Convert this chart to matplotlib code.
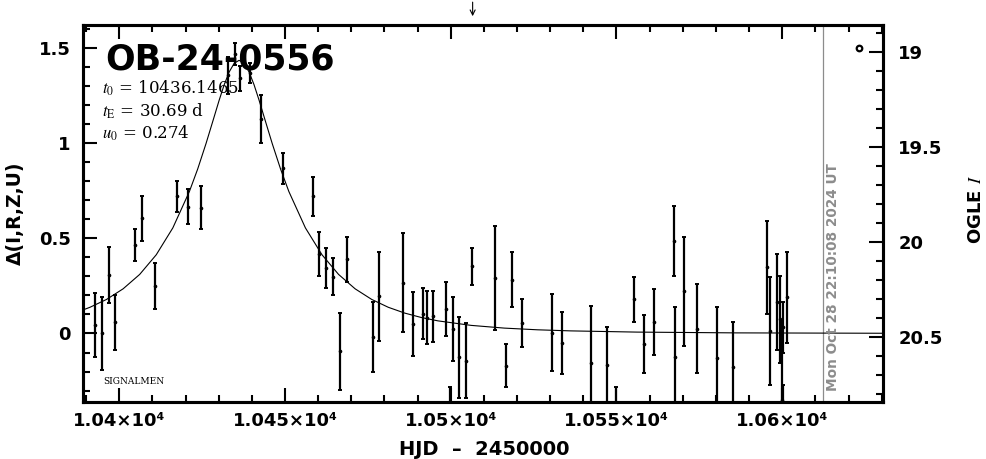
import matplotlib
matplotlib.use('Agg')
import matplotlib.pyplot as plt
from matplotlib.ticker import MultipleLocator, FixedLocator, FixedFormatter

# ---------------- data ----------------
hjd = [10392.58, 10394.69, 10396.80, 10398.70, 10404.83, 10406.76, 10410.86,
       10417.50, 10420.64, 10424.74, 10432.71, 10434.91, 10436.42, 10439.44,
       10442.76, 10449.49, 10458.54, 10460.35, 10462.46, 10464.57, 10466.69,
       10468.62, 10476.64, 10478.46, 10485.70, 10488.53, 10491.55, 10492.76,
       10494.57, 10498.67, 10499.79, 10500.60, 10502.59, 10504.53, 10506.43,
       10513.46, 10516.60, 10518.59, 10521.51, 10530.57, 10533.58, 10542.43,
       10547.25, 10549.79, 10555.40, 10558.42, 10561.35, 10567.38, 10567.50,
       10570.49, 10574.41, 10580.36, 10585.27, 10595.35, 10596.44, 10598.37,
       10599.46, 10599.88, 10600.12, 10600.36, 10601.39]
dmag = [0.046, 0.000, 0.307, 0.058, 0.466, 0.605, 0.250,
        0.721, 0.667, 0.661, 1.357, 1.470, 1.341, 1.369,
        1.127, 0.868, 0.721, 0.417, 0.343, 0.299, -0.094,
        0.390, -0.017, 0.195, 0.266, 0.051, 0.104, 0.084,
        0.091, 0.130, -0.402, 0.023, -0.125, -0.143, 0.353,
        0.292, -0.169, 0.282, 0.055, 0.005, -0.051, -0.157,
        -0.167, -0.450, 0.180, -0.056, 0.060, 0.487, -0.122,
        0.221, 0.026, -0.130, -0.178, 0.347, 0.014, 0.165,
        0.074, -0.350, -0.500, 0.032, 0.191]
dmag_err = [0.168, 0.192, 0.147, 0.145, 0.085, 0.117, 0.122,
            0.082, 0.092, 0.114, 0.098, 0.059, 0.065, 0.053,
            0.126, 0.082, 0.102, 0.115, 0.105, 0.096, 0.203,
            0.118, 0.184, 0.235, 0.260, 0.169, 0.134, 0.139,
            0.134, 0.143, 0.121, 0.167, 0.214, 0.196, 0.098,
            0.274, 0.112, 0.145, 0.125, 0.201, 0.163, 0.301,
            0.200, 0.170, 0.118, 0.153, 0.173, 0.185, 0.263,
            0.287, 0.232, 0.268, 0.240, 0.246, 0.285, 0.251,
            0.230, 0.420, 0.230, 0.136, 0.239]

# model curve (tabulated)
model_hjd = [10389.00, 10391.15, 10396.15, 10401.15, 10406.15, 10411.15, 10416.15,
             10421.15, 10423.65, 10426.15, 10428.15, 10430.15, 10431.65, 10433.15,
             10434.65, 10436.15, 10437.65, 10439.15, 10440.65, 10442.15, 10444.15,
             10446.15, 10448.65, 10451.15, 10456.15, 10461.15, 10466.15, 10471.15,
             10476.15, 10481.15, 10486.15, 10491.15, 10496.15, 10506.15, 10516.15,
             10526.15, 10536.15, 10556.15, 10586.15, 10630.40]
model_dmag = [0.1234, 0.1377, 0.1790, 0.2347, 0.3104, 0.4137, 0.5548,
              0.7462, 0.8643, 0.9973, 1.1117, 1.2270, 1.3072, 1.3742,
              1.4195, 1.4355, 1.4195, 1.3742, 1.3072, 1.2270, 1.1117,
              0.9973, 0.8643, 0.7462, 0.5548, 0.4137, 0.3104, 0.2347,
              0.1790, 0.1377, 0.1070, 0.0838, 0.0663, 0.0426, 0.0283,
              0.0194, 0.0137, 0.0073, 0.0032, 0.0012]

event_name = "OB-24-0556"
param_lines = [r"$t_0$ = 10436.1465", r"$t_{\rm E}$ = 30.69 d", r"$u_0$ = 0.274"]
now_hjd = 10612.42
now_text = "Mon Oct 28 22:10:08 2024 UT"
arrow_hjd = 10506.6

xlim = (10389.05, 10630.4)
ylim = (-0.36, 1.621)
ogle_base = 20.481
xticks = [10400, 10450, 10500, 10550, 10600]
xtick_labels = ["1.04×10⁴", "1.045×10⁴", "1.05×10⁴", "1.055×10⁴", "1.06×10⁴"]
yticks = [0, 0.5, 1, 1.5]
ytick_labels = ["0", "0.5", "1", "1.5"]
rticks = [19, 19.5, 20, 20.5]
rtick_labels = ["19", "19.5", "20", "20.5"]

# ---------------- figure ----------------
plt.rcParams['font.family'] = ['DejaVu Sans']
plt.rcParams['mathtext.fontset'] = 'stix'

fig = plt.figure(figsize=(9.86, 4.59), dpi=100)
ax = fig.add_axes([83/986, 1 - 402/459, 800/986, 377/459])

ax.errorbar(hjd, dmag, yerr=dmag_err, fmt='o', ms=1.6, color='black',
            ecolor='black', elinewidth=1.6, capsize=1.3, capthick=1.4, zorder=3)
ax.plot(model_hjd, model_dmag, color='black', lw=0.8, zorder=2)

ax.axvline(now_hjd, color='#8c8c8c', lw=0.9, zorder=1)
ax.text(now_hjd + 0.9, 0.03, now_text, transform=ax.get_xaxis_transform(),
        rotation=90, ha='left', va='bottom', color='#8c8c8c',
        fontsize=9.8, fontweight='bold')

ax.set_xlim(*xlim)
ax.set_ylim(*ylim)

ax.xaxis.set_major_locator(FixedLocator(xticks))
ax.xaxis.set_major_formatter(FixedFormatter(xtick_labels))
ax.xaxis.set_minor_locator(MultipleLocator(10))
ax.yaxis.set_major_locator(FixedLocator(yticks))
ax.yaxis.set_major_formatter(FixedFormatter(ytick_labels))
ax.yaxis.set_minor_locator(MultipleLocator(0.1))

for s in ax.spines.values():
    s.set_linewidth(2.2)

ax.tick_params(which='both', direction='in', top=True, right=False, width=1.5)
ax.tick_params(which='major', length=10)
ax.tick_params(which='minor', length=5)
ax.tick_params(axis='y', which='major', pad=9, labelsize=13)
ax.tick_params(axis='x', which='major', pad=7, labelsize=13)
for lab in ax.get_xticklabels() + ax.get_yticklabels():
    lab.set_fontweight('bold')

ax.set_xlabel("HJD  –  2450000", fontsize=14, fontweight='bold')
ax.xaxis.set_label_coords(0.501, -0.100)
ax.set_ylabel("Δ(I,R,Z,U)", fontsize=13.5, fontweight='bold')
ax.yaxis.set_label_coords(-0.073, 0.50)

# right axis: OGLE I
ax2 = ax.twinx()
ax2.set_ylim(ogle_base - ylim[0], ogle_base - ylim[1])
ax2.yaxis.set_major_locator(FixedLocator(rticks))
ax2.yaxis.set_major_formatter(FixedFormatter(rtick_labels))
ax2.yaxis.set_minor_locator(MultipleLocator(0.1))
ax2.tick_params(which='both', direction='in', width=1.5)
ax2.tick_params(which='major', length=10, pad=11, labelsize=13)
ax2.tick_params(which='minor', length=5)
for lab in ax2.get_yticklabels():
    lab.set_fontweight('bold')
for s in ax2.spines.values():
    s.set_linewidth(2.2)
ax2.set_ylabel("OGLE $\\mathit{I}$", fontsize=13, fontweight='bold', rotation=90,
               va='top')
ax2.yaxis.set_label_coords(1.105, 0.51)

# texts
ax.text(0.0275, 0.881, event_name, transform=ax.transAxes, fontsize=25,
        fontweight='bold', ha='left', va='baseline')
for i, line in enumerate(param_lines):
    ax.text(0.024, 0.818 - i * 0.060, line, transform=ax.transAxes,
            fontsize=12, family='DejaVu Serif', ha='left', va='baseline')
ax.text(0.025, 0.048, "SIGNALMEN", transform=ax.transAxes, fontsize=6.5,
        family='DejaVu Serif', ha='left', va='baseline')

# small OGLE symbol
ax.plot([0.97], [0.939], marker='o', ms=4, mfc='white', mec='black', mew=1.6,
        transform=ax.transAxes, clip_on=False)

# arrow at top
ax.annotate('', xy=(arrow_hjd, 1.016), xytext=(arrow_hjd, 1.068),
            xycoords=ax.get_xaxis_transform(), textcoords=ax.get_xaxis_transform(),
            arrowprops=dict(arrowstyle='->', lw=0.8, color='black',
                            mutation_scale=9), annotation_clip=False)

fig.savefig('out.png', dpi=100)
